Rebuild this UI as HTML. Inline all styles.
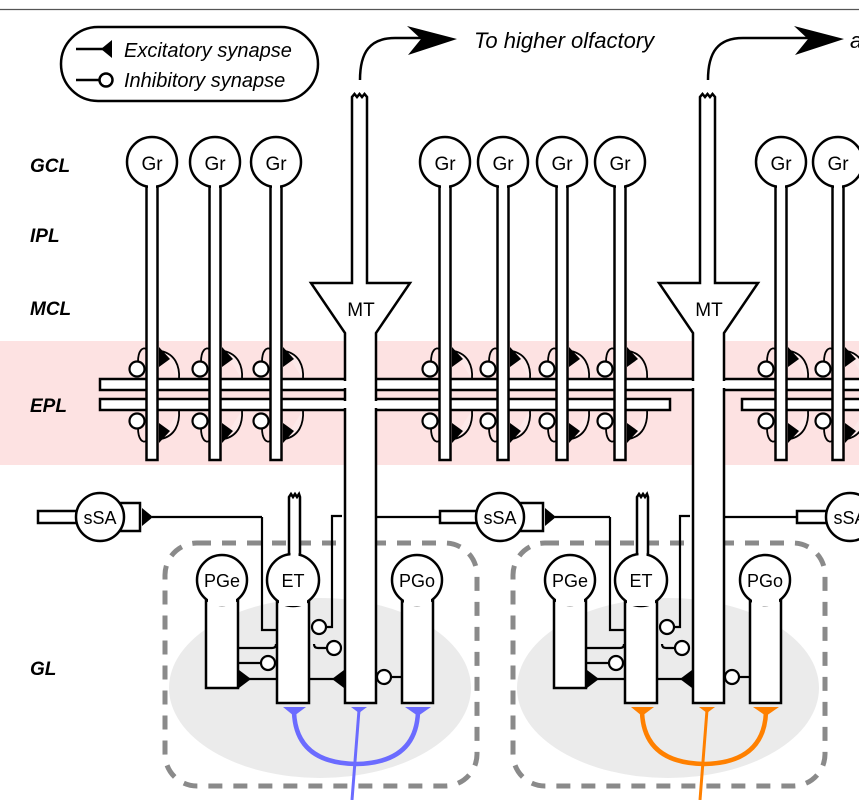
<!DOCTYPE html>
<html><head><meta charset="utf-8"><style>
html,body{margin:0;padding:0;background:#fff;}
svg{display:block;}
text{font-family:"Liberation Sans",sans-serif;}
</style></head><body>
<svg width="859" height="800" viewBox="0 0 859 800" xmlns="http://www.w3.org/2000/svg">
<defs>
<g id="gr">
  <rect x="-5.5" y="180" width="11" height="280" fill="#fff" stroke="#000" stroke-width="2.5"/>
  <circle cx="0" cy="162" r="25" fill="#fff" stroke="#000" stroke-width="2.5"/>
  <rect x="-4" y="183" width="8" height="8" fill="#fff"/>
  <path d="M-14,362 C-14,350 -9,347 -6,349" fill="none" stroke="#000" stroke-width="1.8"/>
  <circle cx="-15" cy="369" r="7.5" fill="#fff" stroke="#000" stroke-width="2.2"/>
  <path d="M9,351 C23,354 28,366 27,379" fill="#fde9e9" stroke="#000" stroke-width="1.8"/>
  <polygon points="7,347 7,367 18,359" fill="#000"/>
  <path d="M-14,428 C-14,440 -9,443 -6,441" fill="none" stroke="#000" stroke-width="1.8"/>
  <circle cx="-15" cy="421" r="7.5" fill="#fff" stroke="#000" stroke-width="2.2"/>
  <path d="M9,439 C23,436 28,424 27,410" fill="#fde9e9" stroke="#000" stroke-width="1.8"/>
  <polygon points="7,423 7,443 18,431" fill="#000"/>
</g>
<g id="mt">
  <path d="M352,283 L352,97 l2.5,-3 l2.5,3 l2.5,-3 l2.5,3 l2.5,-3 l2.5,3 L367,283 L410,283 L376,333 L376,703 L345,703 L345,333 L311,283 Z" fill="#fff" stroke="#000" stroke-width="2.5" stroke-linejoin="miter"/>
</g>
<g id="gl">
  <rect x="206" y="595" width="32" height="93" fill="#fff" stroke="#000" stroke-width="2.5"/>
  <circle cx="222" cy="580" r="25" fill="#fff" stroke="#000" stroke-width="2.5"/>
  <rect x="208" y="596" width="28" height="10" fill="#fff"/>
  <path d="M289,560 L289,497 l2,-3 l2,3 l2,-3 l2,3 l2,-3 l1,3 L300,560" fill="#fff" stroke="#000" stroke-width="2.5"/>
  <rect x="277" y="595" width="32" height="108" fill="#fff" stroke="#000" stroke-width="2.5"/>
  <circle cx="293" cy="580" r="26" fill="#fff" stroke="#000" stroke-width="2.5"/>
  <rect x="279" y="596" width="28" height="10" fill="#fff"/>
  <rect x="290.5" y="550" width="8" height="8" fill="#fff"/>
  <rect x="402" y="595" width="31" height="108" fill="#fff" stroke="#000" stroke-width="2.5"/>
  <circle cx="417" cy="580" r="25" fill="#fff" stroke="#000" stroke-width="2.5"/>
  <rect x="404" y="596" width="27" height="10" fill="#fff"/>
  <path d="M262,517 V630 H277" fill="none" stroke="#000" stroke-width="2.2"/>
  <path d="M342,516 H332 V627 H326" fill="none" stroke="#000" stroke-width="2.2"/>
  <circle cx="319" cy="627" r="7" fill="#fff" stroke="#000" stroke-width="2.2"/>
  <path d="M327,648 H318 Q314,648 314,644" fill="none" stroke="#000" stroke-width="2.2"/>
  <circle cx="334" cy="648" r="7" fill="#fff" stroke="#000" stroke-width="2.2"/>
  <path d="M238,648 H272 Q276,648 276,644" fill="none" stroke="#000" stroke-width="2.2"/>
  <path d="M238,663 H261" fill="none" stroke="#000" stroke-width="2.2"/>
  <circle cx="268" cy="663" r="7" fill="#fff" stroke="#000" stroke-width="2.2"/>
  <path d="M277,679 H248" fill="none" stroke="#000" stroke-width="2.2"/>
  <polygon points="239,670 239,688 251,679" fill="#000"/>
  <path d="M309,679 H334" fill="none" stroke="#000" stroke-width="2.2"/>
  <polygon points="344,670 344,688 332,679" fill="#000"/>
  <path d="M391,677 H402" fill="none" stroke="#000" stroke-width="2.2"/>
  <circle cx="384" cy="677" r="7" fill="#fff" stroke="#000" stroke-width="2.2"/>
</g>
</defs>

<line x1="0" y1="9.5" x2="859" y2="9.5" stroke="#555" stroke-width="1.2"/>
<rect x="0" y="341" width="859" height="124" fill="#fde2e2"/>

<ellipse cx="320" cy="688" rx="151" ry="90" fill="#ebebeb"/>
<ellipse cx="668" cy="688" rx="151" ry="90" fill="#ebebeb"/>
<rect x="165" y="543" width="312" height="243" rx="32" fill="none" stroke="#8a8a8a" stroke-width="5" stroke-dasharray="14 11"/>
<rect x="513" y="543" width="312" height="243" rx="32" fill="none" stroke="#8a8a8a" stroke-width="5" stroke-dasharray="14 11"/>

<rect x="61" y="27" width="257" height="74" rx="37" fill="#fff" stroke="#000" stroke-width="2.5"/>
<line x1="76" y1="49" x2="110" y2="49" stroke="#000" stroke-width="2.5"/>
<polygon points="112,40 112,58 101,49" fill="#000"/>
<line x1="76" y1="80" x2="99" y2="80" stroke="#000" stroke-width="2.5"/>
<circle cx="106" cy="80" r="6.5" fill="#fff" stroke="#000" stroke-width="2.5"/>
<text x="124" y="57" font-size="20" font-style="italic">Excitatory synapse</text>
<text x="124" y="87" font-size="20" font-style="italic">Inhibitory synapse</text>

<g font-size="19" font-weight="bold" font-style="italic">
<text x="30" y="172">GCL</text>
<text x="30" y="242">IPL</text>
<text x="30" y="315">MCL</text>
<text x="30" y="412">EPL</text>
<text x="30" y="675">GL</text>
</g>

<path d="M360,80 C360,52 370,38 395,38 L422,38" fill="none" stroke="#000" stroke-width="2.5"/>
<polygon points="457,39 407,26 421,39 408,55" fill="#000"/>
<text x="474" y="48" font-size="22" font-style="italic">To higher olfactory</text>
<path d="M708,80 C708,52 718,38 743,38 L808,38" fill="none" stroke="#000" stroke-width="2.5"/>
<polygon points="844,39 794,26 808,39 795,55" fill="#000"/>
<text x="850" y="48" font-size="22" font-style="italic">a</text>

<rect x="100" y="379" width="770" height="11" fill="#fff" stroke="#000" stroke-width="2.5"/>
<rect x="100" y="399" width="570" height="11" fill="#fff" stroke="#000" stroke-width="2.5"/>
<rect x="742" y="399" width="130" height="11" fill="#fff" stroke="#000" stroke-width="2.5"/>

<use href="#gr" x="152"/>
<use href="#gr" x="215"/>
<use href="#gr" x="276"/>
<use href="#gr" x="445"/>
<use href="#gr" x="503"/>
<use href="#gr" x="562"/>
<use href="#gr" x="620"/>
<use href="#gr" x="781"/>
<use href="#gr" x="838"/>

<use href="#mt"/>
<use href="#mt" x="348"/>
<rect x="342" y="381" width="6" height="7" fill="#fff"/>
<rect x="342" y="401" width="6" height="7" fill="#fff"/>
<rect x="373" y="401" width="6" height="7" fill="#fff"/>
<rect x="690" y="381" width="6" height="7" fill="#fff"/>
<rect x="721" y="381" width="6" height="7" fill="#fff"/>

<g font-size="19">
<text x="152" y="170" text-anchor="middle">Gr</text>
<text x="215" y="170" text-anchor="middle">Gr</text>
<text x="276" y="170" text-anchor="middle">Gr</text>
<text x="445" y="170" text-anchor="middle">Gr</text>
<text x="503" y="170" text-anchor="middle">Gr</text>
<text x="562" y="170" text-anchor="middle">Gr</text>
<text x="620" y="170" text-anchor="middle">Gr</text>
<text x="781" y="170" text-anchor="middle">Gr</text>
<text x="838" y="170" text-anchor="middle">Gr</text>
<text x="361" y="316" text-anchor="middle">MT</text>
<text x="709" y="316" text-anchor="middle">MT</text>
</g>

<use href="#gl"/>
<use href="#gl" x="348"/>

<path d="M376,517 H440" stroke="#000" stroke-width="2.2" fill="none"/>
<path d="M724,517 H797" stroke="#000" stroke-width="2.2" fill="none"/>

<rect x="38" y="511" width="45" height="12" fill="#fff" stroke="#000" stroke-width="2.5"/>
<path d="M113,503 H140 V531 H113" fill="#fff" stroke="#000" stroke-width="2.5"/>
<circle cx="100" cy="517" r="24" fill="#fff" stroke="#000" stroke-width="2.5"/>
<polygon points="142,508 142,526 153,517" fill="#000"/>
<path d="M152,517 H262" stroke="#000" stroke-width="2.2" fill="none"/>
<rect x="440" y="511" width="42" height="12" fill="#fff" stroke="#000" stroke-width="2.5"/>
<path d="M513,503 H543 V531 H513" fill="#fff" stroke="#000" stroke-width="2.5"/>
<circle cx="500" cy="517" r="24" fill="#fff" stroke="#000" stroke-width="2.5"/>
<polygon points="545,508 545,526 556,517" fill="#000"/>
<path d="M555,517 H610" stroke="#000" stroke-width="2.2" fill="none"/>
<rect x="797" y="511" width="35" height="12" fill="#fff" stroke="#000" stroke-width="2.5"/>
<circle cx="850" cy="517" r="24" fill="#fff" stroke="#000" stroke-width="2.5"/>

<g font-size="18">
<text x="100" y="524" text-anchor="middle">sSA</text>
<text x="500" y="524" text-anchor="middle">sSA</text>
<text x="850" y="524" text-anchor="middle">sSA</text>
<text x="222" y="587" text-anchor="middle">PGe</text>
<text x="293" y="587" text-anchor="middle">ET</text>
<text x="417" y="587" text-anchor="middle">PGo</text>
<text x="570" y="587" text-anchor="middle">PGe</text>
<text x="641" y="587" text-anchor="middle">ET</text>
<text x="765" y="587" text-anchor="middle">PGo</text>
</g>

<g stroke="#6b6bff" fill="none">
<path d="M294,712 Q296,763 356,764 Q416,763 418,712" stroke-width="4.5"/>
<path d="M359,710 L352,800" stroke-width="3"/>
</g>
<g fill="#6b6bff">
<polygon points="283,707 306,707 294,716"/>
<polygon points="405,707 431,707 418,716"/>
<polygon points="351,707 367,707 359,713"/>
</g>
<g stroke="#ff8000" fill="none">
<path d="M642,712 Q644,763 704,764 Q764,763 766,712" stroke-width="4.5"/>
<path d="M707,710 L700,800" stroke-width="3"/>
</g>
<g fill="#ff8000">
<polygon points="631,707 654,707 642,716"/>
<polygon points="753,707 779,707 766,716"/>
<polygon points="699,707 715,707 707,713"/>
</g>
</svg>
</body></html>
